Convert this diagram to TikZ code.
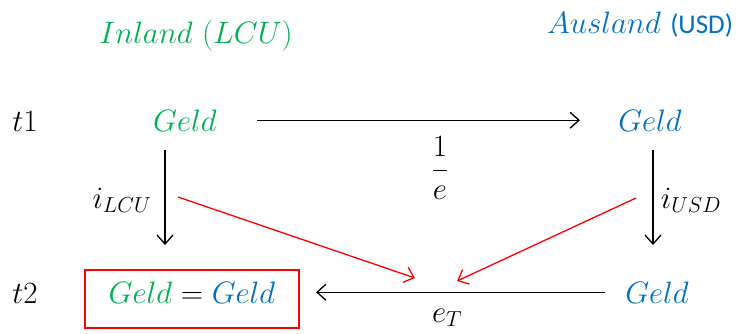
\RequirePackage{fix-cm}
\documentclass[tikz,border=0pt]{standalone}
\usepackage{fontspec}
\setsansfont{Carlito}
\usetikzlibrary{arrows.meta}
\definecolor{mygreen}{HTML}{00B050}
\definecolor{myblue}{HTML}{0070C0}
\definecolor{myred}{HTML}{FF0000}
\tikzset{
  txt/.style={font=\fontsize{31}{37}\selectfont, inner sep=0pt, anchor=base},
  arr/.style={line width=1.3pt, -{Straight Barb[length=9pt,width=16pt]}},
  redarr/.style={arr, draw=myred},
}
\begin{document}
\begin{tikzpicture}[x=1pt,y=-1pt]
\useasboundingbox (0,0) rectangle (749,333);
% headers
\node[txt, text=mygreen] (in) at (196,43) {$Inland\ (LCU)$};
\node[txt, text=myblue] (aus) at (640,33) {$Ausland$ {\fontsize{27}{32}\selectfont\sffamily (USD)}};
% row labels
\node[txt] (t1) at (25,131) {$t1$};
\node[txt] (t2) at (25,303) {$t2$};
% money nodes
\node[txt, text=mygreen] (gl) at (185,131) {$Geld$};
\node[txt, text=myblue] (gr) at (650,131) {$Geld$};
\node[txt, text=myblue] (gb) at (657,303) {$Geld$};
\node[txt, draw=myred, line width=1.2pt, minimum width=214pt, text height=33pt, text depth=25pt] (box) at (192,303)
  {$\textcolor{mygreen}{Geld}=\textcolor{myblue}{Geld}$};
% labels
\node[txt, anchor=center] (frac) at (440,168) {$\displaystyle\frac{1}{e}$};
\node[txt] (ilcu) at (122,208) {$i_{LCU}$};
\node[txt] (iusd) at (691,208) {$i_{USD}$};
\node[txt] (et) at (447,322) {$e_T$};
% coordinates
\coordinate (l1) at (165,150);
\coordinate (l2) at (165,245);
\coordinate (r1) at (653,150);
\coordinate (r2) at (653,245);
\coordinate (ra1) at (178,197);
\coordinate (ra2) at (415,278);
\coordinate (rb1) at (636,198);
\coordinate (rb2) at (457,281);
% arrows
\draw[arr] (gl.east -| 257,0) -- (gr.west -| 580,0);
\draw[arr] (l1) -- (l2);
\draw[arr] (r1) -- (r2);
\draw[arr] (gb.west -| 605,0) -- (gb.west -| 316,0);
\draw[redarr] (ra1) -- (ra2);
\draw[redarr] (rb1) -- (rb2);
\end{tikzpicture}
\end{document}
